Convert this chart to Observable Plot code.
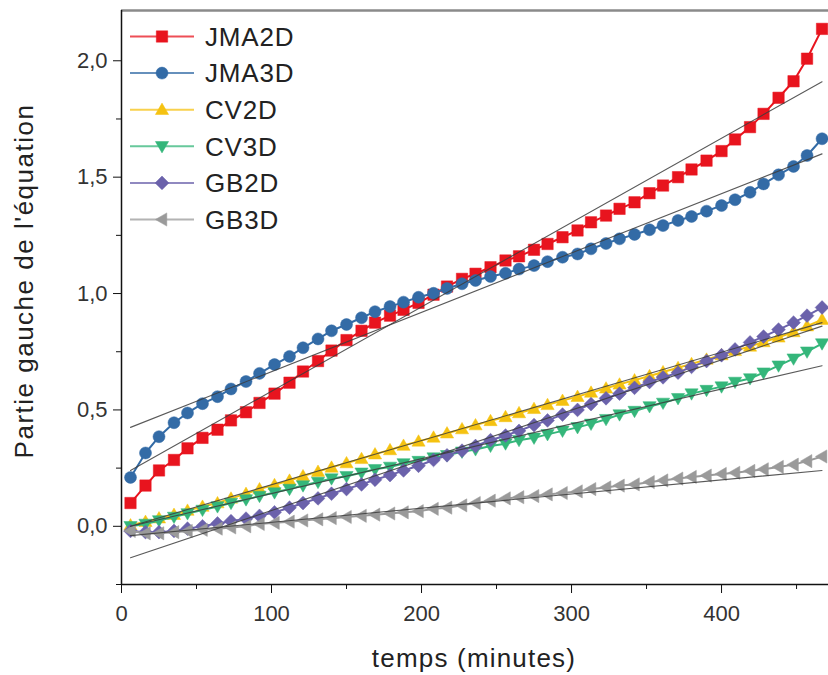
<!DOCTYPE html>
<html>
<head>
<meta charset="utf-8">
<script src="https://cdn.jsdelivr.net/npm/d3@7"></script>
<script src="https://cdn.jsdelivr.net/npm/@observablehq/plot@0.6"></script>
<style>
  html, body { margin: 0; padding: 0; background: #fff; }
  #chart { width: 828px; height: 675px; }
</style>
</head>
<body>
<div id="chart"></div>
<script>
// ---- data ----
const series = ["JMA2D", "JMA3D", "CV2D", "CV3D", "GB2D", "GB3D"];
const colors = ["#e8141e", "#336ba6", "#f5c211", "#34b67a", "#6b62ab", "#9a9a9a"];
const time = [6,16,25,35,44,54,64,73,83,92,102,112,121,131,140,150,160,169,179,188,198,208,217,227,236,246,256,265,275,284,294,304,313,323,332,342,352,361,371,380,390,400,409,419,428,438,448,457,467];
const jma2d = [0.10,0.175,0.24,0.285,0.335,0.38,0.415,0.455,0.49,0.53,0.57,0.617,0.665,0.71,0.755,0.80,0.84,0.875,0.905,0.93,0.96,0.995,1.03,1.063,1.085,1.113,1.142,1.16,1.188,1.213,1.242,1.271,1.306,1.335,1.364,1.392,1.431,1.464,1.50,1.533,1.571,1.612,1.662,1.715,1.772,1.841,1.912,2.009,2.137];
const jma3d = [0.21,0.315,0.385,0.445,0.487,0.527,0.557,0.59,0.622,0.657,0.695,0.73,0.767,0.805,0.84,0.867,0.896,0.922,0.944,0.963,0.984,1.001,1.022,1.042,1.056,1.073,1.087,1.105,1.12,1.137,1.156,1.17,1.192,1.215,1.235,1.254,1.274,1.292,1.314,1.331,1.354,1.378,1.403,1.435,1.471,1.51,1.546,1.593,1.665];
const cv2d = [0.005,0.02,0.035,0.05,0.068,0.085,0.1,0.12,0.14,0.16,0.178,0.197,0.216,0.235,0.253,0.272,0.29,0.31,0.328,0.347,0.365,0.382,0.4,0.418,0.435,0.453,0.47,0.487,0.505,0.522,0.54,0.557,0.575,0.593,0.61,0.628,0.646,0.663,0.681,0.698,0.717,0.736,0.754,0.773,0.792,0.812,0.835,0.86,0.888];
const cv3d = [0.0,0.01,0.025,0.04,0.055,0.07,0.085,0.10,0.115,0.13,0.145,0.16,0.175,0.19,0.205,0.215,0.23,0.245,0.255,0.27,0.28,0.295,0.305,0.32,0.33,0.345,0.355,0.37,0.38,0.395,0.41,0.425,0.44,0.46,0.48,0.495,0.515,0.53,0.55,0.57,0.585,0.60,0.62,0.635,0.66,0.69,0.72,0.75,0.785];
const gb2d = [-0.02,-0.025,-0.025,-0.02,-0.01,0.0,0.012,0.022,0.033,0.045,0.06,0.08,0.10,0.12,0.14,0.16,0.18,0.20,0.22,0.24,0.26,0.285,0.305,0.325,0.345,0.37,0.39,0.41,0.435,0.455,0.48,0.50,0.525,0.55,0.57,0.595,0.62,0.64,0.66,0.685,0.71,0.735,0.76,0.79,0.815,0.845,0.875,0.905,0.94];
const gb3d = [-0.02,-0.03,-0.03,-0.025,-0.02,-0.015,-0.01,-0.005,0.0,0.01,0.015,0.02,0.025,0.03,0.035,0.04,0.045,0.05,0.055,0.06,0.065,0.075,0.08,0.09,0.10,0.11,0.12,0.125,0.13,0.137,0.143,0.15,0.16,0.167,0.175,0.18,0.19,0.197,0.205,0.212,0.218,0.225,0.23,0.238,0.245,0.255,0.265,0.28,0.30];
// linear fits (value at first and last time)
const fitTime = [6, 467];
const fitStart = [0.24, 0.425, 0.0, 0.0, -0.135, -0.04];
const fitEnd = [1.91, 1.60, 0.875, 0.69, 0.86, 0.24];
// axes
const xDomain = [0, 471.3];
const yDomain = [-0.25, 2.216];
const xMajor = [0, 100, 200, 300, 400];
const xMinor = [50, 150, 250, 350, 450];
const yMajor = [0, 0.5, 1.0, 1.5, 2.0];
const yMinor = [-0.25, 0.25, 0.75, 1.25, 1.75];
const xTitle = "temps (minutes)";
const yTitle = "Partie gauche de l'équation";

// ---- symbols ----
const mk = fn => ({ draw(ctx, size) { const r = Math.sqrt(size / Math.PI); fn(ctx, r); } });
const poly = (ctx, pts) => { ctx.moveTo(pts[0][0], pts[0][1]); for (let i = 1; i < pts.length; i++) ctx.lineTo(pts[i][0], pts[i][1]); ctx.closePath(); };
const symbols = [
  mk((c, r) => { const s = r * 0.95; poly(c, [[-s,-s],[s,-s],[s,s],[-s,s]]); }),
  mk((c, r) => { c.moveTo(r, 0); c.arc(0, 0, r, 0, 2 * Math.PI); }),
  mk((c, r) => poly(c, [[0,-r*1.1],[r*1.1,r*0.8],[-r*1.1,r*0.8]])),
  mk((c, r) => poly(c, [[0,r*1.1],[r*1.1,-r*0.8],[-r*1.1,-r*0.8]])),
  mk((c, r) => { const s = r * 1.15; poly(c, [[0,-s],[s,0],[0,s],[-s,0]]); }),
  mk((c, r) => poly(c, [[-r*1.1,0],[r*0.8,-r*1.1],[r*0.8,r*1.1]]))
];

const values = [jma2d, jma3d, cv2d, cv3d, gb2d, gb3d];
const rows = series.flatMap((s, i) => time.map((t, j) => ({ series: s, t, v: values[i][j] })));
const fitRows = series.flatMap((s, i) => [
  { series: s, t: fitTime[0], v: fitStart[i] },
  { series: s, t: fitTime[1], v: fitEnd[i] }
]);
const fmtY = d => d3.format(".1f")(d).replace(".", ",");
const FONT = "'Liberation Sans', Arial, Helvetica, sans-serif";

const seriesMarks = series.flatMap((s, i) => {
  const d = rows.filter(r => r.series === s);
  return [
    Plot.line(d, { x: "t", y: "v", stroke: colors[i], strokeWidth: 2 }),
    Plot.dot(d, { x: "t", y: "v", r: 6, symbol: symbols[i], fill: colors[i], stroke: colors[i], strokeWidth: 0.5 })
  ];
});

const plot = Plot.plot({
  width: 828,
  height: 675,
  marginLeft: 121,
  marginRight: 0,
  marginTop: 10,
  marginBottom: 91,
  x: { domain: xDomain },
  y: { domain: yDomain },
  style: { fontFamily: FONT, background: "#fff", color: "#222", overflow: "hidden" },
  marks: [
    Plot.ruleY([yDomain[1]], { stroke: "#8a8a8a", strokeWidth: 2.5 }),
    ...seriesMarks,
    Plot.line(fitRows, { x: "t", y: "v", z: "series", stroke: "#3c3c3c", strokeWidth: 1.1, strokeOpacity: 0.85 }),
    Plot.ruleX([xDomain[0]], { stroke: "#111", strokeWidth: 1.5 }),
    Plot.ruleY([yDomain[0]], { stroke: "#111", strokeWidth: 1.5 }),
    Plot.axisX({ ticks: xMajor, tickSize: 9, tickPadding: 12, fontSize: 22, label: null, tickFormat: d => String(d), stroke: "#111", fill: "#333" }),
    Plot.axisX({ ticks: xMinor, tickSize: 5, label: null, tickFormat: () => "", stroke: "#111" }),
    Plot.axisY({ ticks: yMajor, tickSize: 8, tickPadding: 6, fontSize: 22, label: null, tickFormat: fmtY, stroke: "#111", fill: "#333" }),
    Plot.axisY({ ticks: yMinor, tickSize: 5, label: null, tickFormat: () => "", stroke: "#111" })
  ]
});

document.getElementById("chart").appendChild(plot);

// ---- titles and legend ----
const svg = d3.select(plot);
svg.append("text")
  .attr("x", 474).attr("y", 667)
  .attr("text-anchor", "middle")
  .attr("font-family", FONT).attr("font-size", 26).attr("letter-spacing", 1.2)
  .attr("fill", "#222")
  .text(xTitle);
svg.append("text")
  .attr("transform", "translate(33,281) rotate(-90)")
  .attr("text-anchor", "middle")
  .attr("font-family", FONT).attr("font-size", 26).attr("letter-spacing", 1.5)
  .attr("fill", "#222")
  .text(yTitle);

const lg = svg.append("g");
series.forEach((s, i) => {
  const cy = 36.5 + i * 36.6;
  lg.append("line").attr("x1", 130).attr("x2", 194).attr("y1", cy).attr("y2", cy)
    .attr("stroke", colors[i]).attr("stroke-width", 2).attr("stroke-opacity", 0.75);
  lg.append("path").attr("transform", `translate(162,${cy})`)
    .attr("d", d3.symbol(symbols[i], Math.PI * 36)())
    .attr("fill", colors[i]).attr("stroke", colors[i]).attr("stroke-width", 0.5);
  lg.append("text").attr("x", 205).attr("y", cy + 9.3)
    .attr("text-anchor", "start")
    .attr("font-family", FONT).attr("font-size", 26).attr("letter-spacing", 0.8)
    .attr("fill", "#222").text(s);
});
</script>
</body>
</html>
